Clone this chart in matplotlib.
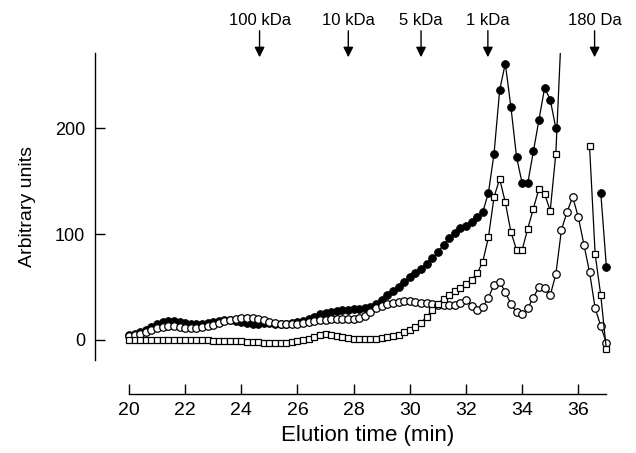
import numpy as np
import matplotlib
matplotlib.use("Agg")
import matplotlib.pyplot as plt

plt.rcParams["font.family"] = ["Liberation Sans", "DejaVu Sans"]

# elution time, sampled every 0.2 min
time = np.round(np.arange(20.0, 37.01, 0.2), 1)

nan = np.nan
filled = [5, 6, 7, 9, 12, 15, 17, 18, 18, 17,
          16, 15, 15, 15, 16, 17, 18, 19, 19, 18,
          17, 16, 15, 15, 16, 16, 15, 15, 15, 16,
          17, 18, 20, 22, 24, 25, 26, 27, 28, 28,
          29, 29, 30, 31, 34, 38, 42, 46, 50, 55,
          59, 63, 67, 72, 77, 83, 90, 96, 101, 106,
          108, 111, 116, 121, 139, 176, 236, 261, 220, 173,
          148, 148, 178, 208, 238, 227, 200, nan, nan, nan,
          nan, nan, nan, nan, 139, 69]

open_c = [4, 5, 6, 7, 9, 11, 12, 13, 13, 12,
          11, 11, 11, 12, 13, 14, 16, 18, 19, 20,
          21, 21, 21, 20, 19, 17, 16, 15, 15, 15,
          15, 16, 17, 18, 19, 19, 20, 20, 20, 20,
          20, 21, 23, 26, 30, 32, 34, 35, 36, 37,
          37, 36, 35, 35, 34, 33, 33, 33, 33, 35,
          38, 32, 28, 31, 40, 52, 55, 45, 34, 26,
          24, 30, 40, 50, 49, 42, 62, 104, 121, 135,
          116, 90, 64, 30, 13, -3]

squares = [0, 0, 0, 0, 0, 0, 0, 0, 0, 0,
           0, 0, 0, 0, 0, -1, -1, -1, -1, -1,
           -1, -2, -2, -2, -3, -3, -3, -3, -3, -2,
           -1, 0, 1, 3, 5, 6, 5, 4, 3, 2,
           1, 1, 1, 1, 1, 2, 3, 4, 5, 7,
           9, 12, 16, 22, 28, 34, 39, 42, 46, 49,
           53, 57, 63, 74, 97, 135, 152, 130, 102, 85,
           85, 105, 124, 143, 138, 122, 176, 295, nan, nan,
           nan, nan, 183, 81, 42, -9]

mw_pos = [24.65, 27.81, 30.40, 32.78, 36.58]
mw_labels = ["100 kDa", "10 kDa", "5 kDa", "1 kDa", "180 Da"]

fig = plt.figure(figsize=(6.36, 4.53), dpi=100)
ax = fig.add_axes([95 / 636, 93 / 453, 517 / 636, 307 / 453])

ax.plot(time, filled, "-o", color="black", lw=0.9, ms=5.6,
        mfc="black", mec="black", mew=0.6)
ax.plot(time, open_c, "-o", color="black", lw=0.9, ms=5.4,
        mfc="white", mec="black", mew=0.9)
ax.plot(time, squares, "-s", color="black", lw=0.9, ms=5.0,
        mfc="white", mec="black", mew=0.9)

ax.set_xlim(18.79, 37.2)
ax.set_ylim(-19, 271)

for sp in ("top", "right"):
    ax.spines[sp].set_visible(False)
ax.spines["bottom"].set_position(("outward", 24.5))
ax.spines["bottom"].set_bounds(20, 37)
ax.spines["left"].set_linewidth(1.0)
ax.spines["bottom"].set_linewidth(1.0)

ax.set_xticks(np.arange(20, 37, 2))
ax.set_yticks([0, 100, 200])
ax.tick_params(axis="x", direction="in", length=7, width=1, pad=6, labelsize=14)
ax.tick_params(axis="y", direction="in", length=7, width=1, pad=7, labelsize=13)

# label centred under the drawn part of the x axis (20-37)
ax.set_xlabel("Elution time (min)", fontsize=16, labelpad=4,
              x=(28.5 - 18.79) / (37.2 - 18.79))
ax.set_ylabel("Arbitrary units", fontsize=14)
ax.yaxis.set_label_coords(-0.114, 0.5)

# molecular weight markers along the top
for x, lab in zip(mw_pos, mw_labels):
    ax.annotate("", xy=(x, 267), xytext=(x, 292), annotation_clip=False,
                arrowprops=dict(arrowstyle="-|>,head_length=0.6,head_width=0.3",
                                color="black", lw=1.0, shrinkA=0, shrinkB=0))
    ax.text(x, 302, lab, ha="center", va="center", fontsize=12, clip_on=False)

fig.savefig("out.png", dpi=100)
